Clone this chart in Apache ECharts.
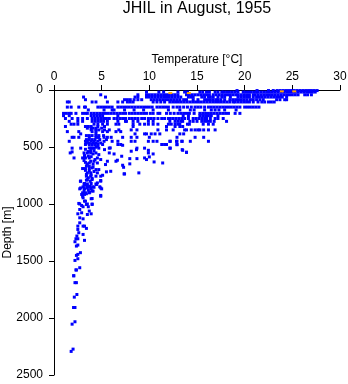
<!DOCTYPE html>
<html>
<head>
<meta charset="utf-8">
<style>html,body{margin:0;padding:0;background:#fff}#chart{width:348px;height:384px}</style>
<script src="https://cdn.jsdelivr.net/npm/echarts@6/dist/echarts.min.js"></script>
</head>
<body>
<div id="chart"></div>
<script>
// casts sharing a standard depth level
const levelDepths = [5, 18, 42, 62, 85, 105, 150, 175, 205, 225, 250, 275, 300, 320, 335, 350, 365, 385, 400, 415, 435, 450, 465, 478, 510]
const levelTemps = [
  [19.2, 21.3, 22.5, 23, 23.4, 23.7, 24, 24.3, 24.6, 24.9, 25.2, 25.5, 25.8, 26.1, 26.4, 26.7, 27, 27.3, 27.6],
  [9.7, 11, 11.5, 13, 13.7, 14, 15.3, 15.6, 16, 16.3, 16.9, 17.2, 17.6, 17.8, 18.1, 18.4, 18.7, 19, 19.3, 19.85, 20.1, 20.4, 20.7, 21, 21.25, 21.4, 21.7, 22, 22.3, 22.6, 22.9, 23.2, 23.5, 23.8, 24.1, 24.4, 24.7, 25, 25.3, 25.6, 25.9, 26.2, 26.5, 26.8, 27.1, 27.4],
  [4.9, 8.8, 9.7, 10, 10.3, 10.6, 10.9, 11.2, 11.5, 11.8, 12.1, 12.4, 12.7, 13, 13.9, 14.2, 14.5, 14.8, 15.1, 15.4, 15.7, 16, 16.3, 16.7, 17, 17.3, 17.6, 17.9, 18.2, 18.5, 18.8, 19.1, 19.3, 19.6, 19.9, 20.2, 20.5, 20.9, 21.1, 21.4, 21.7, 22, 22.3, 22.6, 22.9, 23.2, 23.5, 23.8, 24.1, 24.4, 24.7, 25, 25.3, 25.6, 26.3, 26.6, 27],
  [5.4, 3.1, 8.5, 8.8, 9.7, 10, 10.3, 10.6, 10.9, 11.2, 11.5, 11.8, 12.1, 12.4, 12.7, 13, 13.3, 14.1, 14.4, 14.6, 15.5, 15.8, 16.2, 16.4, 16.7, 17.2, 17.6, 17.9, 18.5, 19.3, 19.6, 19.9, 20.2, 20.5, 20.9, 21.25, 21.55, 21.85, 22.15, 22.45, 22.75, 23.05, 23.35, 23.65, 23.95, 24.4],
  [3.3, 7.4, 7.7, 8, 8.4, 8.8, 9.2, 10.2, 10.5, 10.8, 11.1, 11.4, 11.7, 12, 12.3, 12.6, 12.9, 13.2, 13.6, 13.9, 14.6, 15.1, 15.8, 16.1, 16.4, 16.7, 17, 17.2, 17.5, 17.9, 18.45, 18.75, 19.05, 19.35, 19.65, 19.95, 20.25, 20.6, 20.9, 21.25, 21.6, 21.95, 23.35, 23.7, 24.2, 24.4],
  [1.4, 1.6, 4, 4.4, 5.6, 6.7, 7.2, 7.7, 8, 8.3, 10.4, 10.8, 11.2, 11.6, 12.15, 12.45, 12.75, 13.05, 13.35, 13.65, 13.95, 14.25, 14.55, 14.85, 15.15, 15.45, 15.75, 16.05, 16.35, 16.65, 16.95, 17.25, 17.55, 17.85, 18.15, 18.45, 18.8, 19, 19.3, 19.6, 19.9, 20.2, 20.5, 20.9, 21.4, 21.8, 22.1, 22.5, 22.8, 23.1],
  [1.4, 1.8, 2.6, 3.2, 3.3, 4.6, 4.9, 5.2, 5.5, 5.8, 6.1, 6.7, 7, 7.3, 7.6, 7.9, 8.2, 8.5, 8.8, 9.1, 9.4, 9.7, 10, 10.3, 10.8, 11.1, 11.4, 11.7, 12, 12.5, 12.9, 13.2, 13.6, 14, 14.4, 14.8, 15.1, 15.4, 15.8, 16.2, 16.5, 16.8, 17.1, 17.4, 17.7, 18, 18.3, 18.6, 18.9, 19.2, 19.5, 20, 20.3, 20.6, 20.9, 21.2, 21.5],
  [3.6, 5.25, 6.1, 6.3, 7.4, 8.4, 9.4, 10.4, 12, 13.2, 14.3, 14.7, 15.8, 16.5, 16.9, 17.3, 17.9, 19.1],
  [1, 1.3, 1.6, 1.8, 2.3, 3, 3.3, 3.5, 3.9, 4.2, 4.5, 4.8, 5.1, 5.4, 5.7, 6, 6.3, 6.6, 6.9, 7.2, 7.5, 7.9, 8.2, 8.5, 8.8, 9.1, 9.4, 9.7, 10.1, 10.4, 10.9, 11.1, 11.8, 12.2, 12.6, 13, 13.3, 13.6, 13.9, 14.2, 14.7, 15.3, 15.6, 15.9, 16.2, 16.5, 16.8, 17.1, 17.4, 17.7, 18, 18.3, 19, 19.5],
  [1, 1.6, 3.9, 4.2, 4.5, 4.8, 5.1, 6.7, 13.55, 14.1, 15.3, 15.6, 15.9, 16.2, 16.5, 17.2],
  [1.2, 1.9, 2.5, 3, 3.5, 4, 4.3, 4.6, 4.9, 5.2, 5.5, 5.8, 6.3, 6.6, 6.9, 7.2, 7.5, 7.9, 8.2, 8.5, 8.8, 9.2, 9.5, 9.9, 10.2, 10.5, 10.9, 11.3, 11.6, 12, 12.2, 12.5, 12.8, 13.1, 13.4, 13.7, 14.1, 14.6, 14.9, 15.2, 15.5, 15.8, 16, 16.4, 16.9, 17.2, 17.75],
  [1.6, 2.5, 3, 4, 4.3, 4.6, 4.9, 5.2, 5.6, 6.7, 7.5, 7.6, 8.3, 8.8, 9.9, 10.4, 12.15, 12.7, 13, 13.3, 13.5, 14.25, 14.6, 15, 15.5, 15.8, 16.1, 16.4, 16.8, 18.1],
  [1.8, 2.1, 2.5, 4.2, 4.6, 5.1, 5.6, 6.5, 6.8, 8.3, 9, 9.5, 9.9, 10.4, 10.9, 12, 12.3, 12.7, 13, 13.2, 14, 14.2, 15.65, 16.2, 16.7],
  [1.2, 3.3, 3.6, 3.9, 4.6, 5.3, 8.3, 11.8, 12.7, 13.2, 13.5],
  [3.5, 3.9, 4.1, 4.4, 5],
  [3.9, 4.4, 4.7, 5.3, 5.8, 6.8, 8.1, 8.7, 10.9, 11.8, 12.5, 13.7, 13.9, 14.4, 14.8, 15.1, 15.3, 15.7, 16.2, 16.9],
  [1.4, 2.6, 4, 4.4, 5.1, 5.6, 6.5, 7],
  [2.8, 4.4, 8.5, 9.5, 9.7, 10.2, 10.6, 11.1, 13.2, 13.6],
  [3.4, 3.7, 4, 4.4, 4.7, 5.2],
  [1.9, 2.1, 2.6, 3.7, 4.4, 4.6, 4.7, 5.25, 5.6, 6, 7.2, 8.1, 8.7, 10, 12.9, 14.8, 15.7],
  [3.4, 3.7, 4, 4.3, 4.8, 5.5],
  [1.6, 3.3, 3.5, 3.9, 4.2, 4.6, 5.25, 6.1, 6.7, 8.1, 8.5, 9.9, 10.4, 10.8, 12.2, 12.9, 13.4, 12.15, 12.85, 13.45, 14.3, 16.2],
  [3.4, 3.7, 4.1, 4.4, 4.9],
  [3.3, 3.7, 4, 4.3, 4.6, 5.1, 6.7, 7, 11.3, 11.6, 11.8, 12.9],
  [1.9, 2.8, 3.9, 4.2, 4.7, 5.8, 8.7, 9.5, 12.15, 12.2]
]

// scattered casts below the level rows
const deepTemps = [
  3.7, 4, 4.4, 4.6, 3.85, 4.2, 3.5, 3.85, 3.15, 4.4, 2.1, 3, 3.3, 3.7, 4.55, 4.9, 4.7, 3.15, 3.85, 4.2, 3.5, 4.55, 3, 3.3, 3.7, 4, 4.4, 4.7, 3.5, 3.85, 4.55, 3.4, 3.85, 4.4, 4.9, 5.1, 3.5, 4, 4.9, 2.8, 3.15, 3.5, 4.4, 4.55, 2.8, 3.15, 3.5, 3.85, 4.2, 4.9, 3, 3.3, 3.7, 3, 4, 4.9, 3.3, 2.7, 3.5, 4,
  3.3, 3.6, 4.1, 3.2, 3.6, 3.9, 4.3, 3.3, 3.7, 4.1, 3.4, 3.7, 4.1, 3.3, 3.7, 4.2, 3.4, 3.9, 3.6, 4, 3.2, 3.5, 3.8, 3.6, 4, 3.4,
  1.9, 1.7, 5.3, 5.9, 5.8, 6.3, 7.2, 7.1, 5.4, 5.6, 6.5, 6.65, 7.2, 7.3, 7.35, 5.5, 5.95,
  8.1, 8.65, 9.9, 9.9, 10.4, 13.45, 13.9, 7.95, 8.7, 9.5, 9.7, 10, 10.5, 11.4, 7.95, 7.4, 8.9, 12.9, 13.5, 13.9,
  2.77, 3.4, 3.8, 4.9, 3.2, 3.9, 4.45, 3.05, 3.6, 4.1, 4.8, 2.7, 3.2, 3.9, 5, 3.15, 3.75, 4.1, 2.9, 3.2, 4.9, 3.05, 3.9, 3.2, 2.6, 2.9, 3.4, 4, 3.05, 3.6, 2.7, 3.7, 2.5, 2.9, 3.5, 3.9, 2.7, 3.05, 2.7, 3.05, 2.5, 3.2, 3.4, 2.5, 2.6, 3.05, 2.4, 2.5, 3.2, 2.3, 2.2, 2.5, 2.35, 2.77, 2.5, 2.35, 2.5, 2.2, 2.7, 2.35, 2.07,
  2.3, 2.07, 2.2, 2.35, 2.4, 2.13, 2.05, 2.2, 2.2, 1.9, 2, 1.8
]
const deepDepths = [
  508, 508, 502, 494, 532, 532, 552, 552, 552, 552, 596, 596, 596, 596, 596, 610, 567, 619, 625, 625, 648, 640, 689, 689, 689, 683, 698, 698, 727, 727, 727, 756, 756, 756, 756, 748, 786, 786, 794, 800, 824, 824, 824, 815, 859, 859, 859, 859, 853, 859, 902, 902, 902, 932, 952, 932, 975, 1000, 1000, 1000,
  520, 540, 560, 575, 580, 585, 610, 635, 640, 650, 665, 670, 675, 705, 710, 715, 740, 745, 770, 775, 835, 840, 845, 880, 885, 910,
  543, 552, 523, 508, 552, 561, 485, 581, 654, 625, 625, 616, 660, 678, 736, 718, 713,
  537, 523, 529, 552, 561, 523, 546, 602, 602, 596, 610, 587, 631, 640, 648, 736, 727, 480, 529, 547,
  800, 791, 800, 800, 820, 820, 829, 849, 849, 849, 849, 867, 867, 867, 867, 887, 896, 887, 916, 916, 925, 946, 954, 975, 995, 1013, 1004, 1004, 1024, 1024, 1048, 1062, 1086, 1077, 1092, 1086, 1121, 1130, 1165, 1194, 1194, 1194, 1214, 1223, 1252, 1267, 1281, 1305, 1319, 1305, 1331, 1360, 1369, 1427, 1442, 1451, 1480, 1495, 1559, 1579, 1629,
  1578, 1630, 1690, 1690, 1794, 1817, 1908, 1908, 2033, 2054, 2273, 2293
]

// the few orange flagged observations
const flagTemps = [12.2, 14.15, 23.9, 25.2]
const flagDepths = [27, 27, 12, 12]

const points = []
levelDepths.forEach(function (d, i) {
  levelTemps[i].forEach(function (t) {
    points.push([t, d])
  })
})
deepTemps.forEach(function (t, i) {
  points.push([t, deepDepths[i]])
})

const fontFamily = '"Liberation Sans", Arial, sans-serif'
const axisStyle = { lineStyle: { color: '#000', width: 1 } }

const chart = echarts.init(document.getElementById('chart'), null, { renderer: 'canvas' })
chart.setOption({
  animation: false,
  backgroundColor: '#fff',
  title: {
    text: 'JHIL in August, 1955',
    left: 197,
    top: 1,
    padding: 0,
    textAlign: 'center',
    textStyle: { color: '#000', fontSize: 16, fontWeight: 'normal', fontFamily: fontFamily }
  },
  grid: { left: 54, right: 8, top: 90, bottom: 9, outerBoundsMode: 'none' },
  xAxis: {
    type: 'value',
    position: 'top',
    min: 0,
    max: 30,
    interval: 5,
    name: 'Temperature [°C]',
    nameLocation: 'center',
    nameGap: 21,
    nameTextStyle: { color: '#000', fontSize: 12, fontFamily: fontFamily },
    axisLine: axisStyle,
    axisTick: { show: true, length: 5, lineStyle: { color: '#000' } },
    axisLabel: { color: '#000', fontSize: 12, fontFamily: fontFamily, margin: 7 },
    splitLine: { show: false }
  },
  yAxis: {
    type: 'value',
    inverse: true,
    min: 0,
    max: 2500,
    interval: 500,
    name: 'Depth [m]',
    nameLocation: 'center',
    nameGap: 40,
    nameMoveOverlap: false,
    nameTextStyle: { color: '#000', fontSize: 12, fontFamily: fontFamily },
    axisLine: axisStyle,
    axisTick: { show: true, length: 5, lineStyle: { color: '#000' } },
    axisLabel: { color: '#000', fontSize: 12, fontFamily: fontFamily, margin: 11, formatter: function (v) { return String(v) } },
    splitLine: { show: false }
  },
  series: [
    {
      type: 'scatter',
      data: points,
      symbol: 'rect',
      symbolSize: 3,
      itemStyle: { color: '#0000ff', opacity: 1 }
    },
    {
      type: 'scatter',
      data: flagTemps.map(function (t, i) { return [t, flagDepths[i]] }),
      symbol: 'rect',
      symbolSize: [4, 2],
      itemStyle: { color: '#ffa500', opacity: 1 },
      z: 3
    }
  ]
})
</script>
</body>
</html>
